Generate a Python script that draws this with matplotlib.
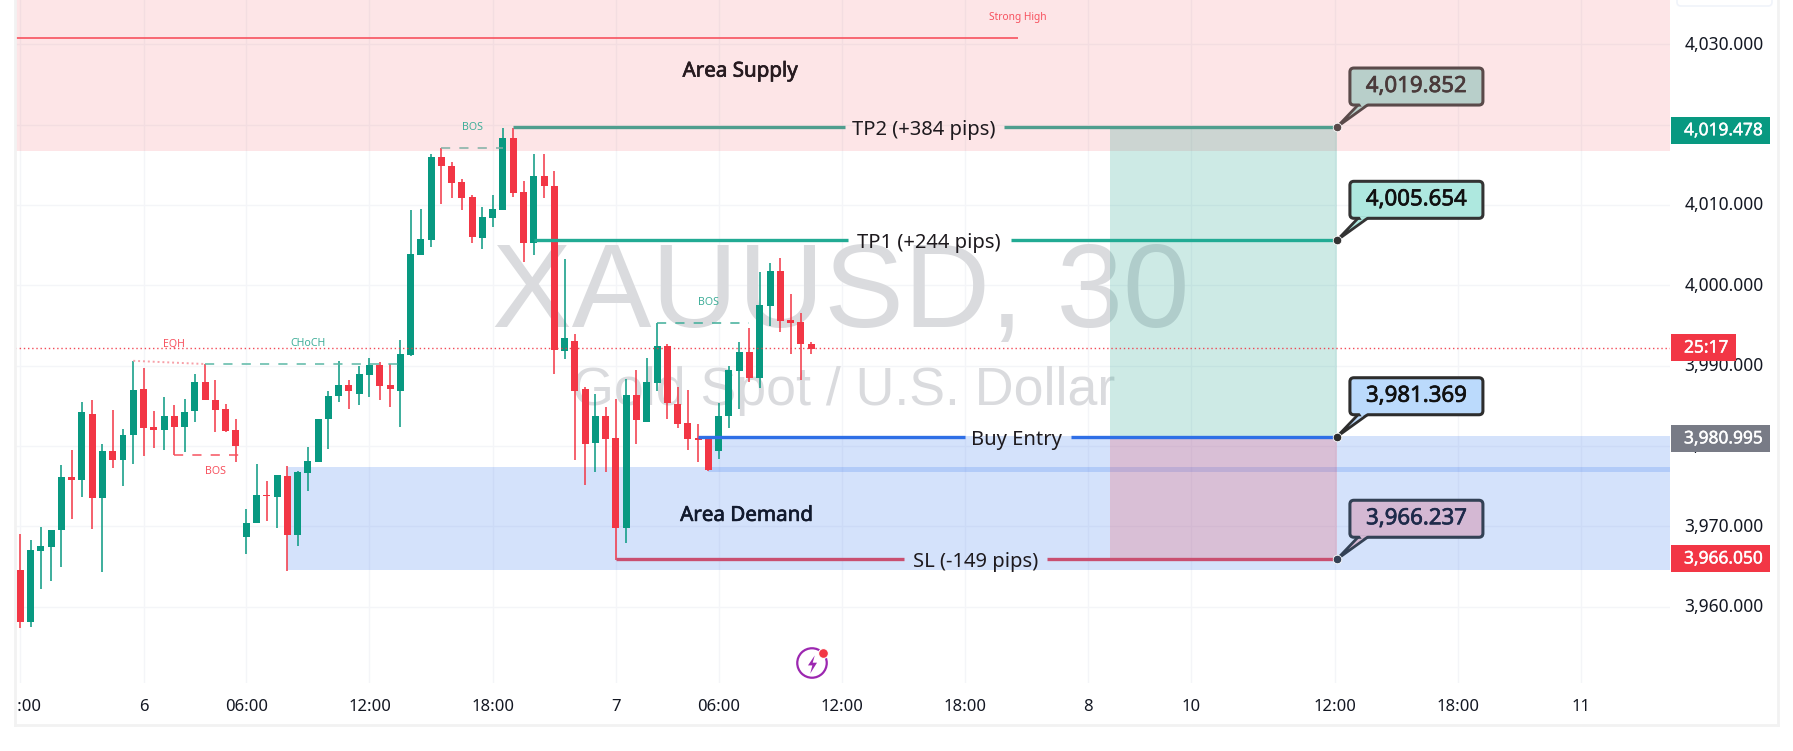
import numpy as np
import matplotlib
matplotlib.use("Agg")
import matplotlib.pyplot as plt
import matplotlib.patheffects as pe
from matplotlib.patches import FancyBboxPatch, Polygon, Rectangle
from matplotlib.path import Path
from matplotlib.transforms import Affine2D, Bbox, ScaledTranslation

plt.rcParams['font.family'] = ['Noto Sans', 'DejaVu Sans']

# XAUUSD 30 min candles
opens = [3964.6, 3958.1, 3966.9, 3967.4, 3969.6, 3976.1, 3975.8, 3984.0, 3973.5, 3979.4,
         3978.3, 3981.4, 3987.1, 3982.4, 3982.0, 3983.75, 3982.4, 3984.3, 3988.0, 3985.75,
         3984.6, 3982.0, 3968.7, 3970.4, 3973.9, 3973.7, 3976.25, 3968.9, 3976.6, 3978.0,
         3983.4, 3986.2, 3987.6, 3986.5, 3988.8, 3990.1, 3987.6, 3986.9, 3991.3, 4003.8,
         4005.7, 4016.0, 4014.9, 4012.8, 4011.0, 4005.9, 4008.4, 4009.4, 4018.3, 4011.6,
         4005.3, 4013.6, 4012.3, 3991.8, 3993.1, 3987.1, 3980.4, 3983.75, 3981.0, 3969.8,
         3986.4, 3983.0, 3987.9, 3992.4, 3985.25, 3982.9, 3981.0, 3980.9, 3979.4, 3983.7,
         3989.3, 3991.7, 3988.4, 3997.4, 4001.75, 3995.7, 3995.4, 3992.7]
highs = [3969.1, 3968.25, 3969.9, 3969.6, 3977.6, 3979.5, 3985.5, 3985.75, 3980.25, 3984.5,
         3982.1, 3990.6, 3989.75, 3984.4, 3986.1, 3985.1, 3985.9, 3988.9, 3990.2, 3988.25,
         3985.25, 3983.4, 3972.1, 3977.75, 3975.6, 3976.4, 3977.5, 3976.9, 3979.9, 3983.4,
         3986.9, 3990.6, 3988.2, 3990.0, 3990.9, 3990.5, 3990.25, 3993.2, 4009.4, 4009.5,
         4016.3, 4017.1, 4015.3, 4013.25, 4011.3, 4009.7, 4011.3, 4019.6, 4019.6, 4013.0,
         4016.4, 4016.4, 4014.2, 4003.25, 3994.0, 3987.4, 3986.5, 3984.9, 3985.8, 3988.3,
         3989.5, 3991.0, 3995.3, 3992.75, 3987.4, 3987.0, 3982.7, 3981.0, 3985.4, 3990.0,
         3992.9, 3994.7, 4001.6, 4002.75, 4003.4, 3998.9, 3996.6, 3993.0]
lows = [3957.4, 3957.5, 3962.2, 3963.2, 3964.9, 3970.9, 3973.7, 3969.7, 3964.3, 3977.3,
        3975.0, 3977.7, 3978.7, 3979.7, 3979.5, 3978.9, 3979.2, 3983.0, 3985.7, 3981.7,
        3981.7, 3978.0, 3966.5, 3970.4, 3970.7, 3969.8, 3964.4, 3967.5, 3974.4, 3978.0,
        3979.6, 3985.5, 3984.6, 3985.1, 3986.1, 3985.75, 3984.9, 3982.4, 3991.2, 4003.8,
        4004.8, 4010.1, 4010.9, 4009.4, 4005.3, 4004.5, 4007.2, 4009.4, 4011.0, 4002.9,
        4003.8, 4010.9, 3989.0, 3990.8, 3978.25, 3975.2, 3976.75, 3976.7, 3965.75, 3967.9,
        3980.25, 3983.0, 3986.9, 3983.3, 3982.2, 3979.5, 3978.0, 3976.9, 3978.4, 3982.2,
        3984.6, 3988.0, 3987.2, 3994.9, 3994.2, 3991.5, 3988.2, 3991.4]
closes = [3958.1, 3967.0, 3967.5, 3969.6, 3976.1, 3975.8, 3984.25, 3973.5, 3979.4, 3978.2,
          3981.4, 3987.0, 3982.3, 3982.0, 3983.75, 3982.4, 3984.25, 3988.0, 3985.7, 3984.5,
          3981.9, 3980.0, 3970.4, 3973.9, 3973.8, 3976.4, 3968.9, 3976.75, 3978.1, 3983.4,
          3986.25, 3987.6, 3986.8, 3989.0, 3990.1, 3987.5, 3987.1, 3991.5, 4003.9, 4005.75,
          4016.0, 4014.8, 4012.7, 4010.9, 4006.0, 4008.5, 4009.5, 4018.3, 4011.5, 4005.3,
          4013.6, 4012.3, 3991.9, 3993.4, 3986.8, 3980.25, 3983.75, 3980.9, 3969.8, 3986.4,
          3983.2, 3988.0, 3992.4, 3985.3, 3982.7, 3980.9, 3980.8, 3977.0, 3983.75, 3989.4,
          3991.7, 3988.5, 3997.5, 4001.75, 3995.5, 3995.3, 3992.7, 3992.1]

# axis labels
time_ticks = [0, 12, 22, 34, 46, 58, 68, 80, 92, 104, 114, 128, 140, 152]
time_labels = ["18:00", "6", "06:00", "12:00", "18:00", "7", "06:00", "12:00", "18:00",
               "8", "10", "12:00", "18:00", "11"]
price_ticks = [3960, 3970, 3980, 3990, 4000, 4010, 4020, 4030]

# trade levels
tp2_level = 4019.7
tp1_level = 4005.6
entry_level = 3981.15
sl_level = 3965.9
last_price = 3992.25
strong_high = 4030.8
supply_low = 4016.7
demand_high, demand_low = 3977.4, 3964.6
fvg_high, fvg_low = 3981.2, 3976.8
pos_left, pos_right = 106.1, 128.2

UP = "#089981"
DOWN = "#F23645"
BLUE = "#2C6FEF"
GRID = "#F4F5F8"
WM = "#DADBDE"

W, H = 1793, 751
L, R, B = 15, 1670, 683
bar0, bar_w = 20.3, 10.27
y4000, per_unit = 285.3, 8.034

fig = plt.figure(figsize=(W/100, H/100), dpi=100)
ax = fig.add_axes([L/W, 1 - B/H, (R-L)/W, B/H])
ax.set_xlim((L-bar0)/bar_w, (R-bar0)/bar_w)
ax.set_ylim(4000 - (B-y4000)/per_unit, 4000 + y4000/per_unit)
xmin, xmax = ax.get_xlim()
ymin, ymax = ax.get_ylim()

ax.set_xticks(time_ticks)
ax.set_xticklabels(time_labels, color="#131722")
ax.set_yticks(price_ticks)
ax.set_yticklabels([f"{p:,.3f}" for p in price_ticks], color="#131722")
ax.yaxis.tick_right()
ax.tick_params(axis='x', length=0, pad=11.5, labelsize=12)
ax.tick_params(axis='y', length=0, pad=10.5, labelsize=12.5)
ax.grid(True, color=GRID, lw=1)
ax.set_axisbelow(True)
for s in ax.spines.values():
    s.set_visible(False)
# first label is cut by the chart edge
ax.get_xticklabels()[0].set_clip_box(Bbox([[L, 0], [100, H]]))
ax.get_xticklabels()[0].set_clip_on(True)
# price labels sit a little above their grid lines
for lab in ax.get_yticklabels():
    lab.set_transform(lab.get_transform() + ScaledTranslation(0, 1.5/100, fig.dpi_scale_trans))

# watermark
ax.text(79.9, 3998.6, "XAUUSD, 30", family="Liberation Sans", fontsize=86, color=WM,
        ha='center', va='center', zorder=1)
ax.text(80.2, 3986.8, "Gold Spot / U.S. Dollar", family="Liberation Sans", fontsize=38.7, color=WM,
        ha='center', va='center', zorder=1)

# zones
ax.axhspan(supply_low, ymax, color=DOWN, alpha=0.125, lw=0, zorder=2)
ax.fill_between([26, xmax], demand_low, demand_high, color=BLUE, alpha=0.2, lw=0, zorder=2)
ax.fill_between([67, xmax], fvg_low, fvg_high, color=BLUE, alpha=0.2, lw=0, zorder=2)
ax.fill_between([pos_left, pos_right], entry_level, tp2_level, color=UP, alpha=0.2, lw=0, zorder=2)
ax.fill_between([pos_left, pos_right], sl_level, entry_level, color=DOWN, alpha=0.2, lw=0, zorder=2)

# candles
x = np.arange(len(opens))
o = np.array(opens)
c = np.array(closes)
cols = np.where(c >= o, UP, DOWN)
ax.vlines(x, lows, highs, colors=cols, lw=1.1, zorder=3)
ax.bar(x, np.abs(c-o), bottom=np.minimum(o, c), width=0.68, color=cols, lw=0, zorder=3)

# market structure
ax.hlines(last_price, xmin, xmax, color=DOWN, lw=1, ls=(0, (1, 2)), alpha=0.9, zorder=4)
ax.hlines(strong_high, xmin, 97.1, color="#F7525F", lw=1.2, zorder=4)
ax.text(97.1, 4033.3, "Strong High", color="#F7525F", fontsize=7.3, ha='center', va='center', zorder=5)
ax.plot([11, 18], [3990.6, 3990.2], color="#F7A0A8", lw=1.4, ls=(0, (1, 1.5)), zorder=4)
ax.text(15, 3992.7, "EQH", color="#F7525F", fontsize=7.6, ha='center', va='center', zorder=5)
ax.plot([18, 37], [3990.2, 3990.2], color="#5BB8A6", lw=1.1, ls=(0, (6, 6)), zorder=4)
ax.text(28, 3992.7, "CHoCH", color="#3FAE99", fontsize=7.6, ha='center', va='center', zorder=5)
ax.plot([15, 22], [3978.9, 3978.9], color="#F7525F", lw=1.1, ls=(0, (6, 6)), zorder=4)
ax.text(19, 3976.8, "BOS", color="#F7525F", fontsize=7.6, ha='center', va='center', zorder=5)
ax.plot([41, 47], [4017.1, 4017.1], color="#7FB0A5", lw=1.1, ls=(0, (6, 6)), zorder=4)
ax.text(44, 4019.6, "BOS", color="#3FAE99", fontsize=7.6, ha='center', va='center', zorder=5)
ax.plot([62, 71], [3995.25, 3995.25], color="#3FAE99", lw=1.1, ls=(0, (6, 6)), zorder=4)
ax.text(67, 3997.8, "BOS", color="#3FAE99", fontsize=7.6, ha='center', va='center', zorder=5)

# trade lines, broken where the label sits
for lvl, start, g0, g1, col, txt, mid in [
        (tp2_level, 48, 80.35, 95.8, "#4F9E8E", "TP2 (+384 pips)", 88.0),
        (tp1_level, 50, 80.6, 96.5, "#22AB94", "TP1 (+244 pips)", 88.5),
        (entry_level, 66, 92, 102.3, "#2F6FE6", "Buy Entry", 97.0),
        (sl_level, 58, 86, 100, "#C94F70", "SL (-149 pips)", 93.0)]:
    ax.hlines([lvl, lvl], [start, g1], [g0, pos_right], color=col, lw=2.4, zorder=4)
    ax.text(mid, lvl - 0.35, txt, color="#1E1A1E", fontsize=14.5, ha='center', va='center', zorder=5)

stroke = [pe.withStroke(linewidth=0.5, foreground="#1A1A24")]
ax.text(70.1, 4026.6, "Area Supply", color="#2A1A1E", fontsize=14.8, ha='center', va='center',
        zorder=5, path_effects=stroke)
ax.text(70.7, 3971.3, "Area Demand", color="#101A30", fontsize=14.8, ha='center', va='center',
        zorder=5, path_effects=stroke)


def anchored(xv, yv):
    # local pixel space around a data point, y pointing down
    tx, ty = ax.transData.transform((xv, yv))
    return Affine2D().scale(1, -1).translate(tx, ty)


# callouts
for lvl, txt, fill, edge, tcol in [
        (tp2_level, "4,019.852", "#B8CFCA", "#5A4A4A", "#4A3A3A"),
        (tp1_level, "4,005.654", "#AEE8DF", "#333333", "#111111"),
        (entry_level, "3,981.369", "#BBDAFC", "#2D2D2D", "#111111"),
        (sl_level, "3,966.237", "#D4B8D3", "#334155", "#1E2A4A")]:
    t = anchored(pos_right, lvl)
    ax.add_patch(Polygon([(0, 0), (22, -23), (32, -23)], closed=True, fc=fill, ec=edge, lw=2,
                         transform=t, clip_on=False, zorder=7))
    ax.add_patch(FancyBboxPatch((13, -59), 133, 37, boxstyle="round,pad=0,rounding_size=4", fc=fill,
                                ec=edge, lw=2.2, transform=t, clip_on=False, zorder=7))
    ax.add_patch(Polygon([(22.5, -24), (31, -24), (25, -20)], closed=True, fc=fill, lw=0,
                         transform=t, clip_on=False, zorder=7))
    ax.scatter([pos_right], [lvl], s=38, color=edge, edgecolors="white", linewidths=0.6, zorder=8, clip_on=False)
    ax.text(79.5, -40.5, txt, color=tcol, fontsize=16, ha='center', va='center', transform=t,
            clip_on=False, zorder=8, path_effects=[pe.withStroke(linewidth=0.5, foreground=tcol)])

# price tags on the scale
for lvl, txt, fill, wid in [
        (3992.25, "25:17", DOWN, 65),
        (4019.3, "4,019.478", UP, 99),
        (3980.95, "3,980.995", "#787B86", 99),
        (3966.0, "3,966.050", DOWN, 99)]:
    t = anchored(xmax, lvl)
    ax.add_patch(Rectangle((1, -13.5), wid, 27, fc=fill, lw=0, transform=t, clip_on=False, zorder=6))
    ax.text(14, 0, txt, color="white", fontsize=12.5, ha='left', va='center', transform=t,
            clip_on=False, zorder=6.5, path_effects=[pe.withStroke(linewidth=0.3, foreground="white")])

# page frame and the small box on top of the scale
over = fig.add_axes([0, 0, 1, 1], facecolor='none')
over.set_xlim(0, W)
over.set_ylim(H, 0)
over.axis('off')
over.plot([15, 15], [0, 725], color="#F2F2F2", lw=2)
over.plot([15, 1778], [725, 725], color="#F2F2F2", lw=2)
over.plot([1778, 1778], [0, 725], color="#F2F2F2", lw=2)
over.add_patch(FancyBboxPatch((1677, -10), 95, 16, boxstyle="round,pad=0,rounding_size=4",
                              fc="white", ec="#F0F3FA", lw=1.2))

# lightning icon
over.scatter([812], [663], s=450, facecolors='none', edgecolors="#9C27B0", linewidths=1.6)
bolt = Path([(0.25, 1), (-0.5, -0.1), (-0.02, -0.1), (-0.25, -1), (0.5, 0.2), (0.02, 0.2), (0.25, 1)])
over.scatter([812], [664], s=170, marker=bolt, color="#9C27B0", lw=0)
over.scatter([823], [653], s=50, color="#F23645", edgecolors="white", linewidths=0.8)

fig.savefig("out.png", dpi=100)
